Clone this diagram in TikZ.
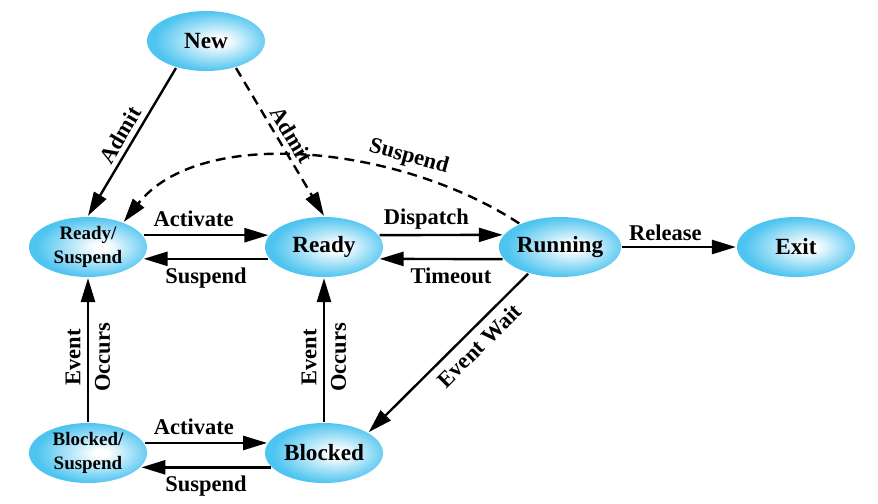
\documentclass[tikz,border=0pt]{standalone}
\usepackage{fontspec}
\setmainfont{Liberation Serif}
\usepackage{xcolor}
\usepackage{tikz}
\usetikzlibrary{arrows.meta}
\usetikzlibrary{automata}
\usetikzlibrary{positioning}
\usetikzlibrary{shapes.geometric}
\definecolor{procsky}{RGB}{78,196,240}
\pgfdeclareradialshading{procshade}{\pgfpoint{6bp}{0bp}}{color(0bp)=(white); color(3bp)=(white); color(25bp)=(procsky); color(50bp)=(procsky)}
\tikzset{
->, % every connector is directed
>={Triangle[length=17pt,width=10pt]}, % large solid heads
node distance=5.15cm and 5.9cm, % rows and columns of the grid
on grid,
font=\bfseries\fontsize{16}{19}\selectfont,
every state/.style={ellipse, draw=none, shading=procshade, minimum width=2.95cm, minimum height=1.5cm, inner sep=0pt, font=\bfseries\fontsize{16.5}{19}\selectfont}, % the process states
twoline/.style={align=center, font=\bfseries\fontsize{13.5}{17}\selectfont}, % states with two lines of text
vlabel/.style={rotate=90, align=center, font=\bfseries\fontsize{16}{21}\selectfont}, % labels across the vertical edges
dashpat/.style={dash pattern=on 7pt off 4.5pt},
}

\begin{document}
\begin{tikzpicture}[line width=1.7pt]
            \useasboundingbox (0,0) rectangle (21.95,-12.575);

            \node[state, twoline] (RS) at (2.2,-6.175) {Ready/\\Suspend};
            \node[state, right=of RS] (Ready) {Ready};
            \node[state, right=of Ready] (Running) {Running};
            \node[state, right=of Running] (Exit) {Exit};
            \node[state, twoline, below=of RS] (BS) {Blocked/\\Suspend};
            \node[state, below=of Ready] (Blocked) {Blocked};
            \node[state, above right=5.15cm and 2.95cm of RS] (New) {New};

            \path

                (New.222) edge node[above, sloped]{Admit} (RS.north)
                (New.318) edge[dashpat] node[above, sloped]{Admit} (Ready.north)

                (RS.12) edge node[pos=0.4, above=2pt]{Activate} (Ready.168)
                (Ready.192) edge node[below=2pt]{Suspend} (RS.348)
                (Ready.12) edge node[pos=0.38, above]{Dispatch} (Running.168)
                (Running.192) edge node[pos=0.42, below=2pt]{Timeout} (Ready.348)
                (Running) edge node[pos=0.38, above]{Release} (Exit)

                (Running.220) edge node[pos=0.38, below=2pt, sloped]{Event Wait} (Blocked.25)

                (BS) edge node[vlabel, pos=0.45]{Event\\Occurs} (RS)
                (Blocked) edge node[vlabel, pos=0.45]{Event\\Occurs} (Ready)

                (BS.10) edge node[pos=0.4, above=2pt]{Activate} (Blocked.170)
                (Blocked.195) edge node[below=2pt]{Suspend} (BS.345)

                ;

            \draw[dashpat] (Running.150) .. controls (10,-3.625) and (5,-3.125) .. (RS.35) node[pos=0.28, above, sloped]{Suspend};
        \end{tikzpicture}
\end{document}
